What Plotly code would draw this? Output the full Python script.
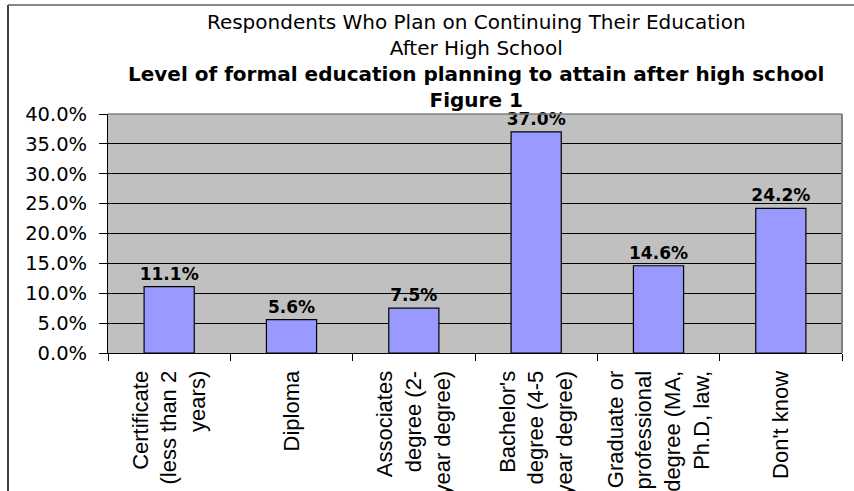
import plotly.graph_objects as go

categories = [
    "Certificate<br>(less than 2<br>years)",
    "Diploma",
    "Associates<br>degree (2-<br>year degree)",
    "Bachelor's<br>degree (4-5<br>year degree)",
    "Graduate or<br>professional<br>degree (MA,<br>Ph.D, law,",
    "Don't know",
]
values = [11.1, 5.6, 7.5, 37.0, 14.6, 24.2]
y_ticks = [0, 5, 10, 15, 20, 25, 30, 35, 40]
y_tick_labels = [f"{v:.1f}%" for v in y_ticks]
title_lines = [
    "Respondents Who Plan on Continuing Their Education",
    "After High School",
    "<b>Level of formal education planning to attain after high school</b>",
    "<b>Figure 1</b>",
]

W, H = 854, 491
ML, MR, MT, MB = 108, 12, 114, 138
pw = W - ML - MR
ph = H - MT - MB

def px_x(p):
    return (p - ML) / pw

def px_y(p):
    return (H - MB - p) / ph

fig = go.Figure(
    go.Bar(
        x=categories,
        y=values,
        marker=dict(color="#9999FF", line=dict(color="black", width=1.2)),
        texttemplate="<b>%{y:.1f}%</b>",
        textposition="outside",
        constraintext="none",
        textfont=dict(family="DejaVu Sans", size=17, color="black"),
        cliponaxis=False,
    )
)

fig.update_layout(
    width=W,
    height=H,
    margin=dict(l=ML, r=MR, t=MT, b=MB),
    paper_bgcolor="white",
    plot_bgcolor="#C0C0C0",
    bargap=0.59,
    showlegend=False,
    annotations=[
        dict(
            text="<br>".join(title_lines),
            font=dict(family="DejaVu Sans", size=20, color="black"),
            xref="paper", x=px_x(476), xanchor="center",
            yref="paper", y=px_y(8), yanchor="top",
            showarrow=False, align="center",
        )
    ],
    xaxis=dict(
        type="category",
        tickson="boundaries",
        ticks="outside",
        ticklen=7,
        tickcolor="black",
        showline=True,
        linecolor="black",
        linewidth=1,
        showgrid=False,
        tickangle=-90,
        tickfont=dict(family="Liberation Sans, Arial", size=22, color="black"),
        ticklabelstandoff=8,
        automargin=False,
    ),
    yaxis=dict(
        range=[0, 40],
        tickvals=y_ticks,
        ticktext=y_tick_labels,
        ticks="outside",
        ticklen=8,
        tickcolor="black",
        showline=True,
        linecolor="black",
        linewidth=1,
        showgrid=True,
        gridcolor="black",
        gridwidth=1,
        zeroline=False,
        tickfont=dict(family="DejaVu Sans", size=19.5, color="black"),
        ticklabelstandoff=8,
        automargin=False,
    ),
    shapes=[
        dict(type="line", xref="paper", yref="paper", x0=0, x1=1, y0=1, y1=1,
             line=dict(color="#808080", width=1.5), layer="above"),
        dict(type="line", xref="paper", yref="paper", x0=1, x1=1, y0=0, y1=1,
             line=dict(color="#808080", width=2), layer="above"),
        dict(type="line", xref="paper", yref="paper", x0=px_x(8), x1=px_x(8), y0=px_y(5), y1=px_y(H + 5),
             line=dict(color="#404040", width=2)),
        dict(type="line", xref="paper", yref="paper", x0=px_x(8), x1=px_x(W + 5), y0=px_y(5), y1=px_y(5),
             line=dict(color="#606060", width=1.5)),
    ],
)

fig.write_html("out.html")
